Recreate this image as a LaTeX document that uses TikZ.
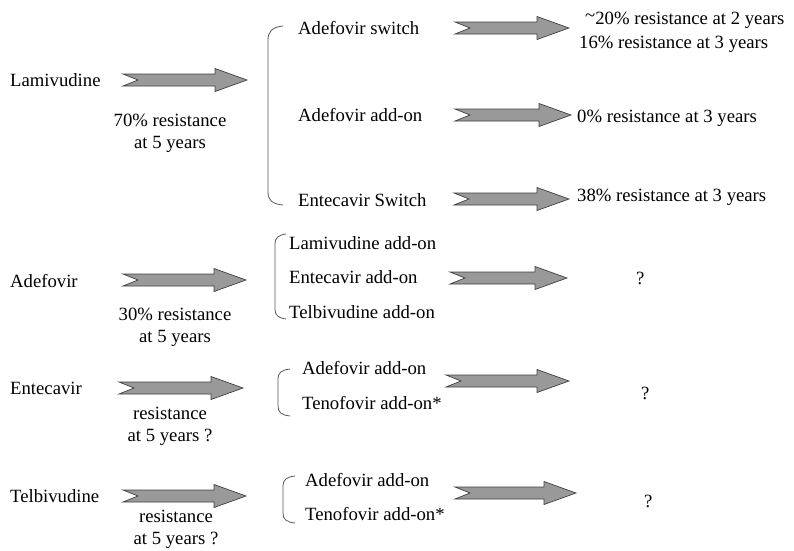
\documentclass[tikz,border=0pt]{standalone}
\usepackage{fontspec}
\setmainfont{Liberation Serif}
\begin{document}
\begin{tikzpicture}[x=1pt,y=-1pt,
  txt/.style={anchor=west,inner sep=0pt,font=\fontsize{18.7}{22}\selectfont},
  ctxt/.style={anchor=center,inner sep=0pt,align=center,font=\fontsize{18.7}{22}\selectfont},
  brc/.style={draw=black!65,line width=0.8pt},
  pics/barrow/.style={code={
    \draw[draw=black!75,fill=black!40,line width=0.7pt,line join=miter]
      (0,-6) -- (#1-32,-6) -- (#1-32,-11.5) -- (#1,0) -- (#1-32,11.5) -- (#1-32,6) -- (0,6) -- (15,0) -- cycle;}}]
\useasboundingbox (0,0) rectangle (794,550);

% Lamivudine block
\node[txt] (lam) at (10,80) {Lamivudine};
\pic at (123,80) {barrow=124};
\node[ctxt] (lamres) at (170,133) {70\% resistance\\at 5 years};
\draw[brc] (283,26) .. controls (272,27) and (268,32) .. (268,40) -- (268,192) .. controls (268,200) and (272,204) .. (283,205);
\node[txt] (ads) at (298,28) {Adefovir switch};
\node[txt] (ada) at (298,115) {Adefovir add-on};
\node[txt] (ens) at (298,200) {Entecavir Switch};
\pic at (455,28) {barrow=114};
\pic at (455,115) {barrow=116};
\pic at (454,199) {barrow=115};
\node[txt] (r1) at (585,20) {\raisebox{0.3ex}{\textasciitilde}20\% resistance at 2 years};
\node[txt] (r2) at (579,44) {16\% resistance at 3 years};
\node[txt] (r3) at (577,118) {0\% resistance at 3 years};
\node[txt] (r4) at (577,197) {38\% resistance at 3 years};

% Adefovir block
\node[txt] (ade) at (10,281) {Adefovir};
\pic at (123,280) {barrow=123};
\node[ctxt] (aderes) at (175,327) {30\% resistance\\at 5 years};
\draw[brc] (286,234) .. controls (278,235) and (275,238) .. (275,244) -- (275,309) .. controls (275,315) and (278,318) .. (286,319);
\node[txt] (lao) at (289,243) {Lamivudine add-on};
\node[txt] (eao) at (289,277) {Entecavir add-on};
\node[txt] (tao) at (289,312) {Telbivudine add-on};
\pic at (450,278) {barrow=117};
\node[txt] (q1) at (636,278) {?};

% Entecavir block
\node[txt] (ent) at (10,388) {Entecavir};
\pic at (119,388) {barrow=124};
\node[ctxt] (entres) at (170,426) {resistance\\at 5 years ?};
\draw[brc] (290,369) .. controls (281,370) and (278,373) .. (278,379) -- (278,406) .. controls (278,412) and (281,415) .. (290,416);
\node[txt] (ea1) at (302,368) {Adefovir add-on};
\node[txt] (ea2) at (302,403) {Tenofovir add-on*};
\pic at (446,381) {barrow=123};
\node[txt] (q2) at (641,393) {?};

% Telbivudine block
\node[txt] (tel) at (10,496) {Telbivudine};
\pic at (123,496) {barrow=123};
\node[ctxt] (telres) at (176,529) {resistance\\at 5 years ?};
\draw[brc] (295,476) .. controls (286,477) and (283,480) .. (283,486) -- (283,513) .. controls (283,519) and (286,522) .. (295,523);
\node[txt] (ta1) at (305,480) {Adefovir add-on};
\node[txt] (ta2) at (305,514) {Tenofovir add-on*};
\pic at (455,493) {barrow=121};
\node[txt] (q3) at (644,501) {?};
\end{tikzpicture}
\end{document}
